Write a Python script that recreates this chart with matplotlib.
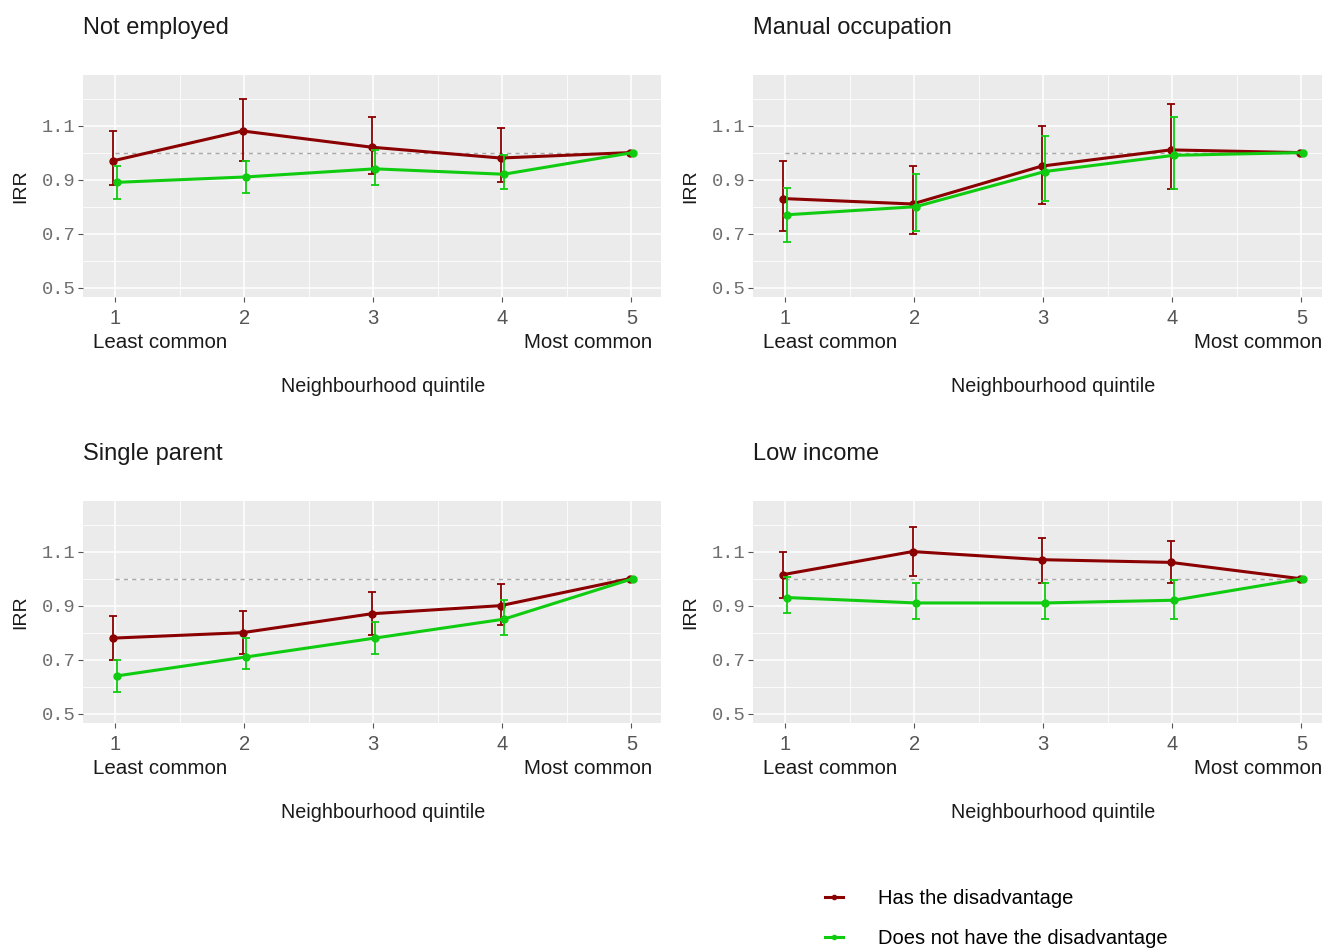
import matplotlib
matplotlib.use("Agg")
import matplotlib.pyplot as plt
import numpy as np
from matplotlib.ticker import FixedLocator

plt.rcParams['font.family'] = ['Liberation Sans', 'DejaVu Sans']

quintiles = [1, 2, 3, 4, 5]
titles = ["Not employed", "Manual occupation", "Single parent", "Low income"]
series_labels = ["Has the disadvantage", "Does not have the disadvantage"]

# Has the disadvantage: estimate, lower CI, upper CI (quintile 5 = reference)
has_est = [
    [0.97, 1.08, 1.02, 0.98, 1.00],
    [0.83, 0.81, 0.95, 1.01, 1.00],
    [0.78, 0.80, 0.87, 0.90, 1.00],
    [1.015, 1.10, 1.07, 1.06, 1.00],
]
has_lo = [
    [0.88, 0.97, 0.92, 0.89, None],
    [0.71, 0.70, 0.81, 0.865, None],
    [0.70, 0.72, 0.79, 0.83, None],
    [0.93, 1.01, 0.985, 0.983, None],
]
has_hi = [
    [1.08, 1.20, 1.13, 1.09, None],
    [0.97, 0.95, 1.10, 1.18, None],
    [0.86, 0.88, 0.95, 0.98, None],
    [1.10, 1.19, 1.15, 1.14, None],
]
# Does not have the disadvantage
not_est = [
    [0.89, 0.91, 0.94, 0.92, 1.00],
    [0.77, 0.80, 0.93, 0.99, 1.00],
    [0.64, 0.71, 0.78, 0.85, 1.00],
    [0.93, 0.91, 0.91, 0.92, 1.00],
]
not_lo = [
    [0.83, 0.85, 0.88, 0.865, None],
    [0.67, 0.71, 0.82, 0.867, None],
    [0.58, 0.665, 0.72, 0.79, None],
    [0.872, 0.852, 0.852, 0.852, None],
]
not_hi = [
    [0.95, 0.97, 1.01, 0.99, None],
    [0.87, 0.92, 1.06, 1.13, None],
    [0.70, 0.78, 0.84, 0.92, None],
    [1.005, 0.984, 0.984, 0.994, None],
]
ref_value = 1.0

red = '#8B0000'
green = '#10CC10'
panel_bg = '#EBEBEB'

W, H = 1322, 948
fig = plt.figure(figsize=(W / 100, H / 100), dpi=100)

# panel boxes in pixel coords: left, top
panel_px = [(83, 75), (753, 75), (83, 501), (753, 501)]
pw, ph = 578, 222

def draw_series(ax, est, lo, hi, color, dx):
    x = np.array(quintiles, dtype=float) + dx
    line, = ax.plot(x, est, color=color, lw=2.2, marker='o', ms=5, zorder=3)
    idx = [i for i in range(len(quintiles)) if lo[i] is not None]
    xe = x[idx]
    ye = np.array([est[i] for i in idx])
    yl = np.array([lo[i] for i in idx])
    yh = np.array([hi[i] for i in idx])
    ax.errorbar(xe, ye, yerr=[ye - yl, yh - ye], fmt='none', ecolor=color,
                elinewidth=1.3, capsize=3, capthick=1.3, zorder=3)
    return line

handles = None
for k in range(4):
    lx, ty = panel_px[k]
    ax = fig.add_axes([lx / W, 1 - (ty + ph) / H, pw / W, ph / H])
    ax.set_facecolor(panel_bg)
    for s in ax.spines.values():
        s.set_visible(False)
    ax.set_xlim(0.752, 5.23)
    ax.set_ylim(0.466, 1.287)
    ax.yaxis.set_major_locator(FixedLocator([0.5, 0.7, 0.9, 1.1]))
    ax.yaxis.set_minor_locator(FixedLocator([0.6, 0.8, 1.0, 1.2]))
    ax.xaxis.set_major_locator(FixedLocator(quintiles))
    ax.xaxis.set_minor_locator(FixedLocator([1.5, 2.5, 3.5, 4.5]))
    ax.grid(which='major', color='white', lw=1.1)
    ax.grid(which='minor', color='white', lw=0.6)
    ax.set_axisbelow(True)
    ax.set_yticklabels(['0.5', '0.7', '0.9', '1.1'], family='Liberation Mono',
                       fontsize=13.5, color='#6E6E6E')
    ax.set_xticklabels([str(q) for q in quintiles], fontsize=14.5, color='#555555')
    ax.tick_params(which='major', length=3.5, color='#555555', width=0.8, pad=2)
    ax.tick_params(which='minor', length=0)
    ax.tick_params(axis='x', pad=5)

    ax.plot([quintiles[0], quintiles[-1]], [ref_value, ref_value], ls=(0, (3, 3)),
            color='#A8A8A8', lw=1.0, zorder=2)
    l1 = draw_series(ax, has_est[k], has_lo[k], has_hi[k], red, -0.012)
    l2 = draw_series(ax, not_est[k], not_lo[k], not_hi[k], green, 0.012)
    if handles is None:
        handles = [l1, l2]

    ax.text(0, 1 + 47 / ph, titles[k], transform=ax.transAxes, fontsize=17,
            color='#1A1A1A', ha='left', va='center')
    ax.text(-62 / pw, 0.5, 'IRR', transform=ax.transAxes, rotation=90,
            fontsize=14, color='#1A1A1A', ha='center', va='center')
    ax.text(77 / pw, -46 / ph, 'Least common', transform=ax.transAxes,
            fontsize=14.8, color='#1A1A1A', ha='center', va='center')
    ax.text(569 / pw, -46 / ph, 'Most common', transform=ax.transAxes,
            fontsize=14.8, color='#1A1A1A', ha='right', va='center')
    ax.text(300 / pw, -90 / ph, 'Neighbourhood quintile', transform=ax.transAxes,
            fontsize=14.2, color='#1A1A1A', ha='center', va='center')

fig.legend(handles, series_labels, loc='upper left',
           bbox_to_anchor=(817 / W, 1 - 881 / H), frameon=False, fontsize=14.5,
           handlelength=0.9, handletextpad=1.75, labelspacing=1.05,
           markerscale=0.6, borderaxespad=0)

fig.savefig('out.png', dpi=100, facecolor='white')
